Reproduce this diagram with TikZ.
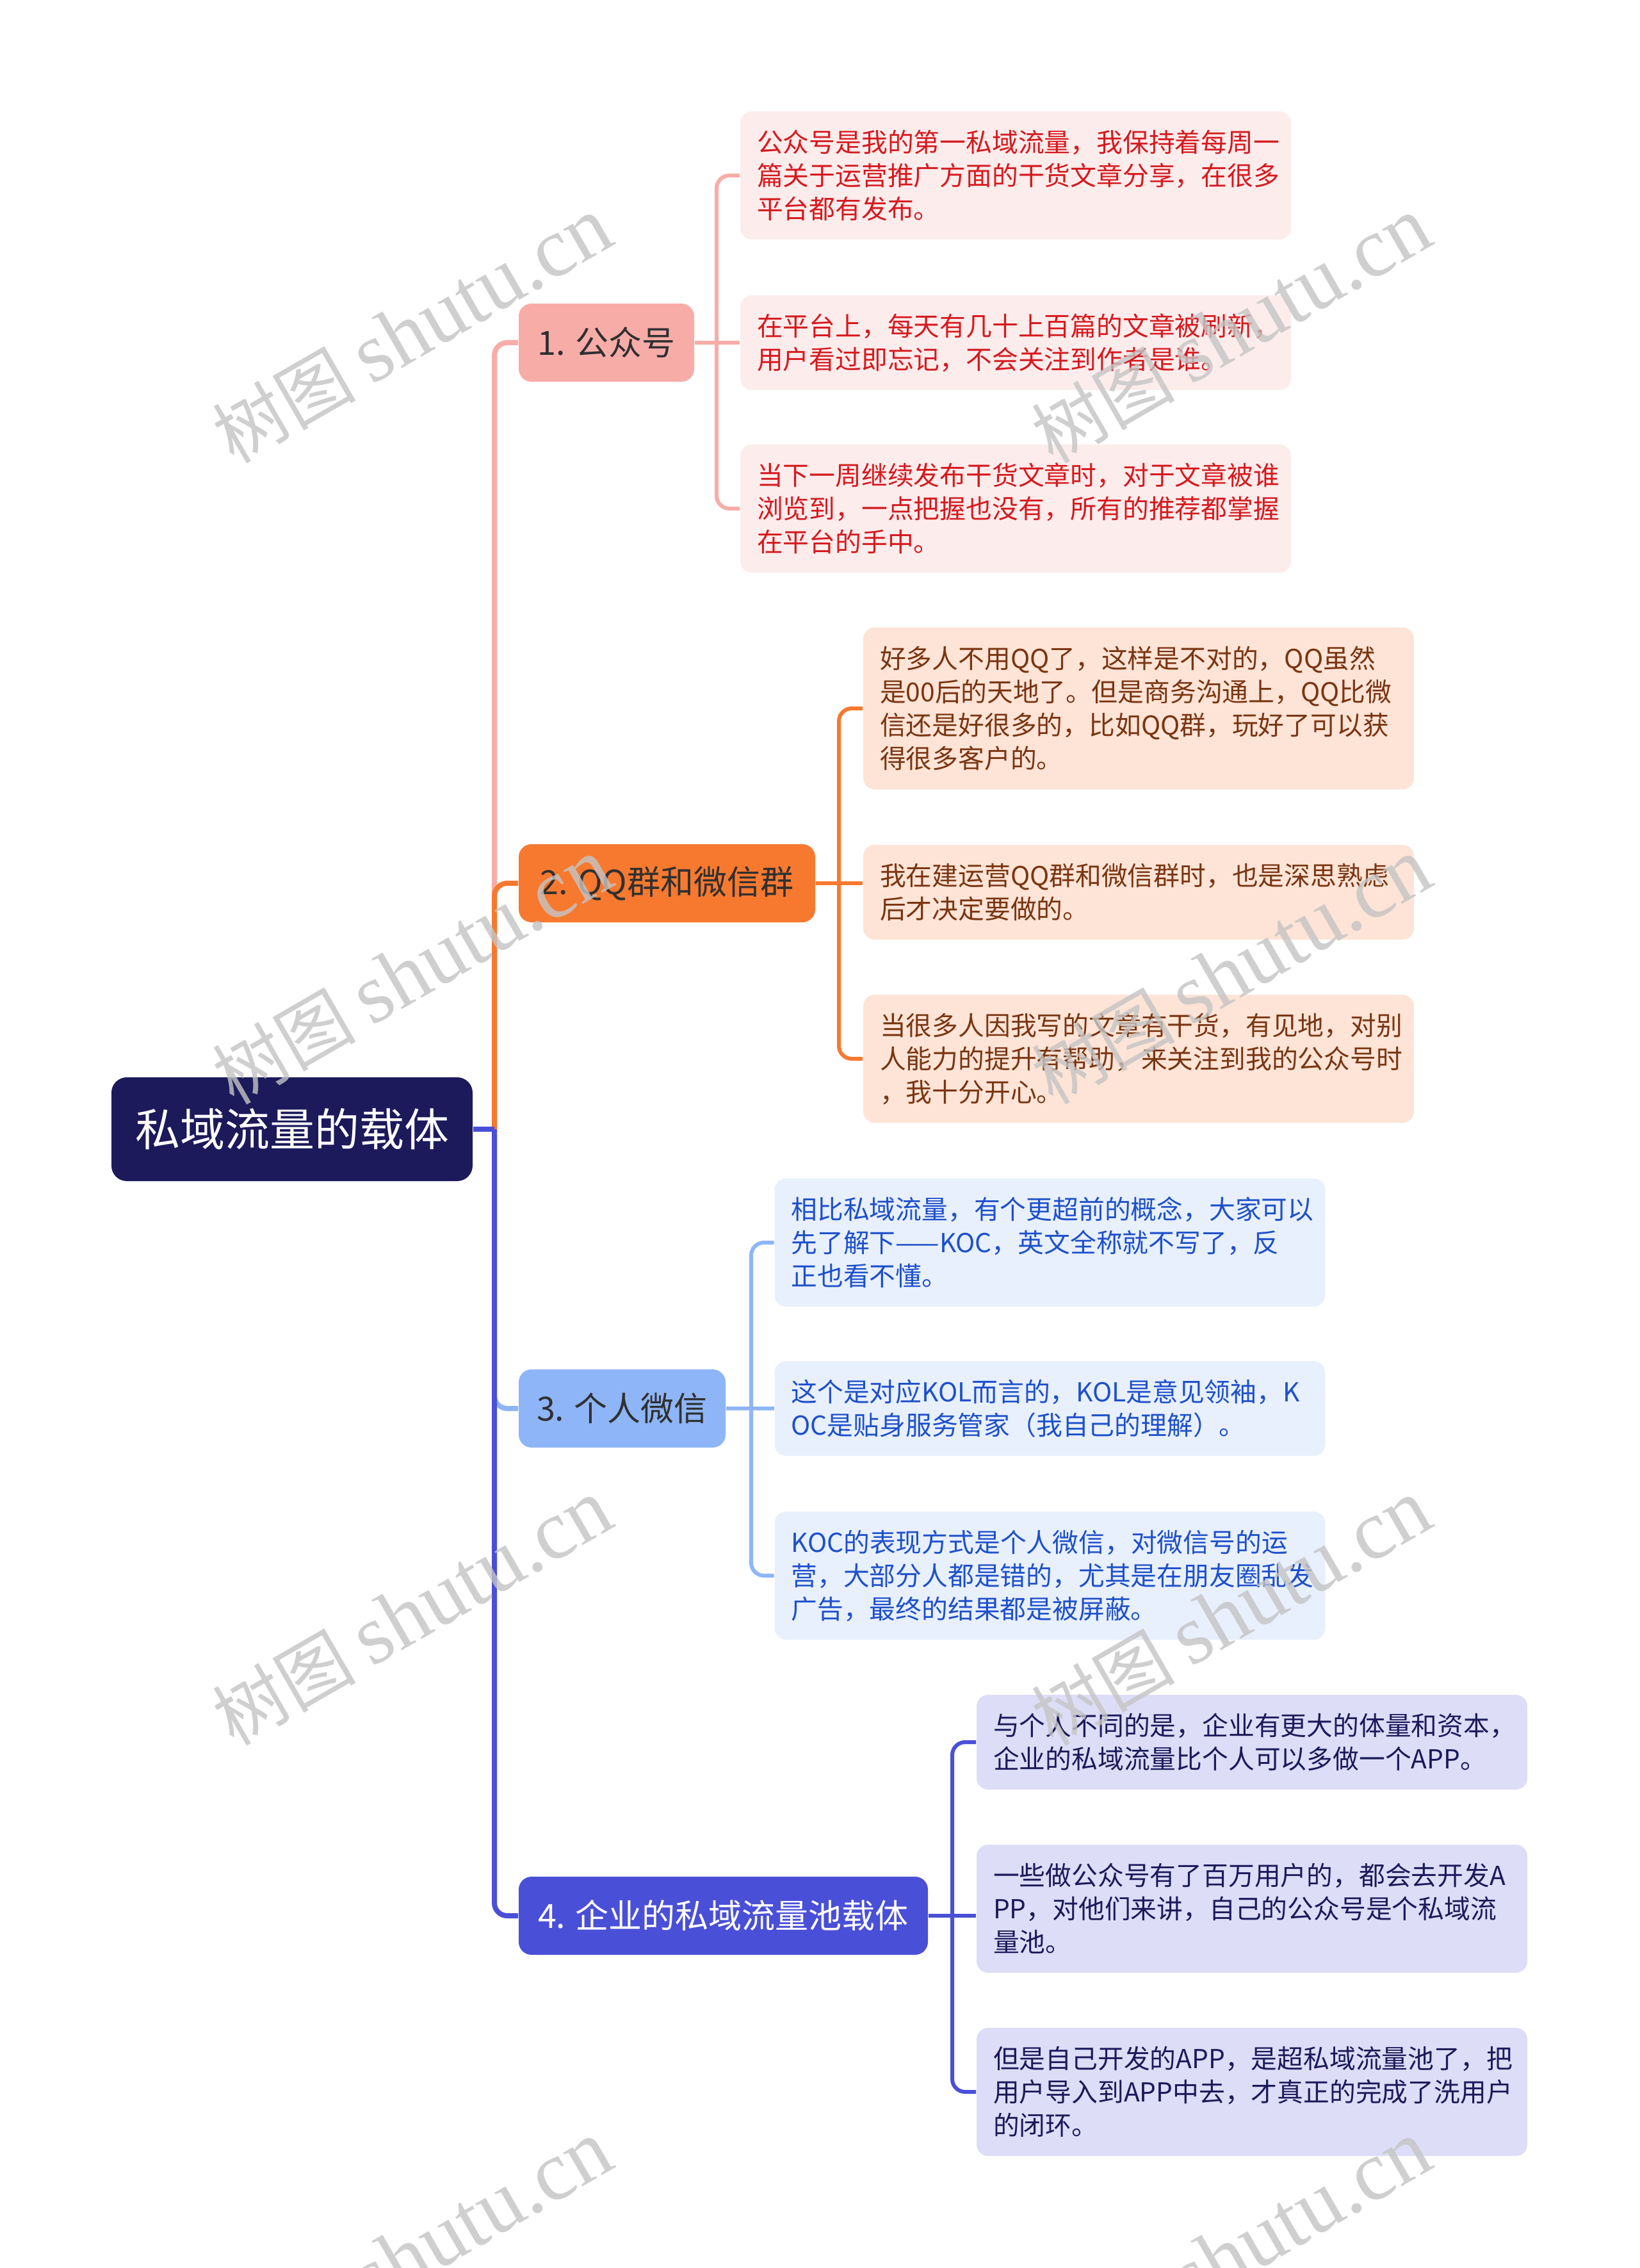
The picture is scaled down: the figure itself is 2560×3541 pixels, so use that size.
\documentclass[tikz,border=0pt]{standalone}
\usepackage{fontspec}
\newfontfamily\cjk{Noto Sans CJK SC}
\newfontfamily\wmlat{Liberation Serif}
\definecolor{rootc}{HTML}{1C1A5B}
\definecolor{c1}{HTML}{F8ACA8}
\definecolor{c2}{HTML}{F7792F}
\definecolor{c3}{HTML}{8EB5F8}
\definecolor{c4}{HTML}{4A4FD8}
\definecolor{f1}{HTML}{FDECEC}
\definecolor{f2}{HTML}{FDE4D6}
\definecolor{f3}{HTML}{E8F0FD}
\definecolor{f4}{HTML}{DDDDF7}
\definecolor{t1}{HTML}{D51A1F}
\definecolor{t2}{HTML}{7A3512}
\definecolor{t3}{HTML}{1E50CA}
\definecolor{t4}{HTML}{1C1A5B}
\definecolor{lvtxt}{HTML}{303030}
\definecolor{wmgray}{HTML}{C4C4C4}
\begin{document}
\begin{tikzpicture}[x=0.25pt,y=-0.25pt,
  leaf/.style={rounded corners=4.5pt, text width=202pt, inner xsep=6.5pt, inner ysep=0pt,
    align=left, font={\cjk\fontsize{10.2pt}{13pt}\selectfont}},
  lvone/.style={rounded corners=5pt, minimum height=30.5pt, inner sep=0pt,
    font={\cjk\fontsize{13pt}{15pt}\selectfont}},
  rootbox/.style={rounded corners=6pt, fill=rootc, text=white, minimum width=141pt,
    minimum height=40.5pt, inner sep=0pt, font={\cjk\fontsize{17.5pt}{20pt}\selectfont}},
  mainline/.style={line width=2pt, rounded corners=5pt},
  subline/.style={line width=1.5pt, rounded corners=5pt},
  wm/.style={rotate=30, text=wmgray, text opacity=0.8, inner sep=0pt}
]
\fill[white] (0,0) rectangle (2560,3541);
\useasboundingbox (0,0) rectangle (2560,3541);

% root
\node[rootbox] (root) at (456,1763) {私域流量的载体};

% level one
\node[lvone, fill=c1, text=lvtxt, minimum width=68.5pt] (n1) at (947,535) {1. 公众号};
\node[lvone, fill=c2, text=lvtxt, minimum width=115.75pt] (n2) at (1041.5,1379) {2. QQ群和微信群};
\node[lvone, fill=c3, text=lvtxt, minimum width=80.75pt] (n3) at (971.5,2199) {3. 个人微信};
\node[lvone, fill=c4, text=white, minimum width=159.75pt] (n4) at (1129.5,2991) {4. 企业的私域流量池载体};

% leaves branch 1
\node[leaf, fill=f1, text=t1, minimum height=50pt] (l1a) at (1586,274)
  {公众号是我的第一私域流量，我保持着每周一\\篇关于运营推广方面的干货文章分享，在很多\\平台都有发布。};
\node[leaf, fill=f1, text=t1, minimum height=37pt] (l1b) at (1586,535)
  {在平台上，每天有几十上百篇的文章被刷新，\\用户看过即忘记，不会关注到作者是谁。};
\node[leaf, fill=f1, text=t1, minimum height=50pt] (l1c) at (1586,794)
  {当下一周继续发布干货文章时，对于文章被谁\\浏览到，一点把握也没有，所有的推荐都掌握\\在平台的手中。};

% leaves branch 2
\node[leaf, fill=f2, text=t2, minimum height=63.25pt] (l2a) at (1778,1106)
  {好多人不用QQ了，这样是不对的，QQ虽然\\是00后的天地了。但是商务沟通上，QQ比微\\信还是好很多的，比如QQ群，玩好了可以获\\得很多客户的。};
\node[leaf, fill=f2, text=t2, minimum height=37pt] (l2b) at (1778,1393)
  {我在建运营QQ群和微信群时，也是深思熟虑\\后才决定要做的。};
\node[leaf, fill=f2, text=t2, minimum height=50pt] (l2c) at (1778,1653)
  {当很多人因我写的文章有干货，有见地，对别\\人能力的提升有帮助，来关注到我的公众号时\\，我十分开心。};

% leaves branch 3
\node[leaf, fill=f3, text=t3, minimum height=50pt] (l3a) at (1639.5,1940)
  {相比私域流量，有个更超前的概念，大家可以\\先了解下——KOC，英文全称就不写了，反\\正也看不懂。};
\node[leaf, fill=f3, text=t3, minimum height=37pt] (l3b) at (1639.5,2199)
  {这个是对应KOL而言的，KOL是意见领袖，K\\OC是贴身服务管家（我自己的理解）。};
\node[leaf, fill=f3, text=t3, minimum height=50pt] (l3c) at (1639.5,2460)
  {KOC的表现方式是个人微信，对微信号的运\\营，大部分人都是错的，尤其是在朋友圈乱发\\广告，最终的结果都是被屏蔽。};

% leaves branch 4
\node[leaf, fill=f4, text=t4, minimum height=37pt] (l4a) at (1955,2720)
  {与个人不同的是，企业有更大的体量和资本，\\企业的私域流量比个人可以多做一个APP。};
\node[leaf, fill=f4, text=t4, minimum height=50pt] (l4b) at (1955,2980)
  {一些做公众号有了百万用户的，都会去开发A\\PP，对他们来讲，自己的公众号是个私域流\\量池。};
\node[leaf, fill=f4, text=t4, minimum height=50pt] (l4c) at (1955,3266)
  {但是自己开发的APP，是超私域流量池了，把\\用户导入到APP中去，才真正的完成了洗用户\\的闭环。};

% junction coordinates
\coordinate (j0) at (772,1763);
\coordinate (j1) at (1119,535);
\coordinate (j2) at (1310,1379);
\coordinate (j3) at (1173,2199);
\coordinate (j4) at (1487,2991);

% main connectors
\draw[mainline, c1] (j0) |- (n1.west);
\draw[mainline, c2] (j0) |- (n2.west);
\draw[mainline, c3] (j0) |- (n3.west);
\draw[mainline, c4] (j0) |- (n4.west);
\draw[mainline, c4] (root.east) -- (j0);

% branch connectors
\draw[subline, c1] (j1) |- (l1a.west);
\draw[subline, c1] (j1) |- (l1c.west);
\draw[subline, c1] (n1.east) -- (l1b.west);
\draw[subline, c2] (j2) |- (l2a.west);
\draw[subline, c2] (j2) |- (l2c.west);
\draw[subline, c2] (n2.east) -- (n2.east -| l2b.west);
\draw[subline, c3] (j3) |- (l3a.west);
\draw[subline, c3] (j3) |- (l3c.west);
\draw[subline, c3] (n3.east) -- (l3b.west);
\draw[subline, c4] (j4) |- (l4a.west);
\draw[subline, c4] (j4) |- (l4c.west);
\draw[subline, c4] (n4.east) -- (n4.east -| l4b.west);

% watermarks
\foreach \wx/\wy [count=\i] in {644/516,1923/516,644/1517,1923/1517,644/2518,1923/2518,644/3519,1923/3519}{
  \node[wm] (wm\i) at (\wx,\wy) {\cjk\fontsize{28pt}{30pt}\selectfont 树图\hspace{6pt}\wmlat\fontsize{33pt}{35pt}\selectfont shutu.cn};
}
\end{tikzpicture}
\end{document}
